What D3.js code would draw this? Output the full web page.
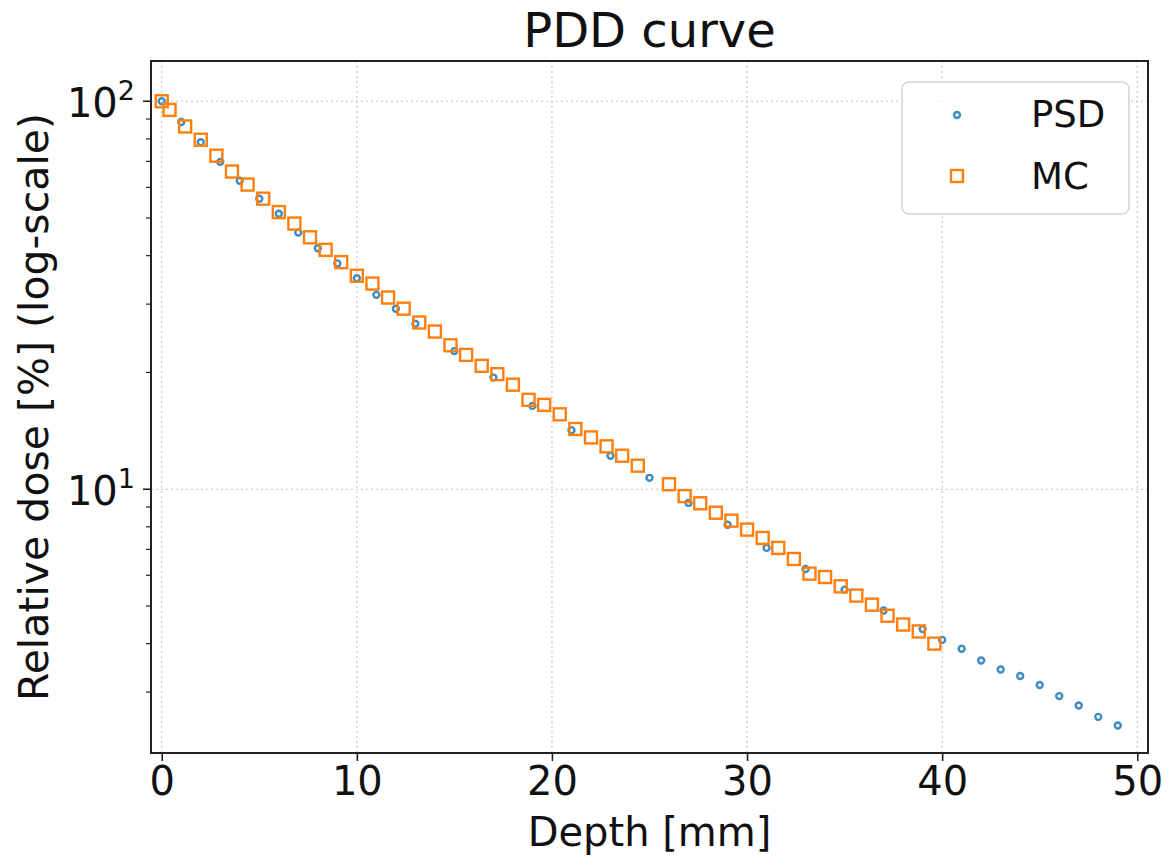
<!DOCTYPE html>
<html lang="en">
<head>
<meta charset="UTF-8">
<title>PDD curve</title>
<style>
  body { margin:0; background:#fff; }
  svg { display:block; font-family:"DejaVu Sans", sans-serif; }
</style>
</head>
<body>
<svg width="1168" height="861"></svg>
<script src="https://cdnjs.cloudflare.com/ajax/libs/d3/7.8.5/d3.min.js"></script>
<script>
// PSD measurement (depth in mm, relative dose in %)
const psdDepth = [0,1,2,3,4,5,6,7,8,9,10,11,12,13,15,17,19,21,23,25,27,29,31,33,35,37,39,
                  40,41,42,43,44,45,46,47,48,49]
const psdDose  = [100,88.4,78.4,69.8,62.4,56.1,51.3,45.9,41.8,38.2,35.0,31.7,29.2,26.7,
                  22.7,19.4,16.4,14.2,12.2,10.7,9.22,8.10,7.06,6.23,5.51,4.87,4.36,
                  4.09,3.88,3.62,3.43,3.30,3.13,2.93,2.77,2.59,2.46]

// Monte Carlo (0.8 mm bins, one missing around 25.2 mm)
const mcDepth = [0,0.4,1.2,2.0,2.8,3.6,4.4,5.2,6.0,6.8,7.6,8.4,9.2,10.0,10.8,11.6,12.4,13.2,
                 14.0,14.8,15.6,16.4,17.2,18.0,18.8,19.6,20.4,21.2,22.0,22.8,23.6,24.4,
                 26.0,26.8,27.6,28.4,29.2,30.0,30.8,31.6,32.4,33.2,34.0,34.8,35.6,36.4,
                 37.2,38.0,38.8,39.6]
const mcDose  = [100,95.0,86.1,79.6,72.4,65.9,61.0,56.1,51.8,48.4,44.6,41.4,38.5,35.5,33.9,
                 31.2,29.2,26.9,25.5,23.5,22.2,20.8,19.8,18.6,17.0,16.5,15.6,14.3,13.6,
                 12.9,12.2,11.5,10.3,9.6,9.2,8.7,8.3,7.87,7.49,7.06,6.61,6.06,5.94,5.62,
                 5.32,5.04,4.72,4.48,4.30,4.00]

const xTicks = [0,10,20,30,40,50]
const yMajor = [10,100]
const yMinor = [3,4,5,6,7,8,9,20,30,40,50,60,70,80,90]

const svg = d3.select('svg')
const mLeft = 151, mTop = 61, w = 997, h = 692

const x = d3.scaleLinear().domain([-0.55, 50.55]).range([mLeft, mLeft + w])
const y = d3.scaleLog().domain([2.09, 127]).range([mTop + h, mTop])

// grid
const grid = svg.append('g')
  .attr('stroke', '#c4c4c4').attr('stroke-width', 1.1).attr('stroke-dasharray', '2,3')
grid.selectAll('.gx').data(xTicks).join('line')
  .attr('x1', d => x(d)).attr('x2', d => x(d))
  .attr('y1', mTop).attr('y2', mTop + h)
grid.selectAll('.gy').data(yMajor).join('line')
  .attr('y1', d => y(d)).attr('y2', d => y(d))
  .attr('x1', mLeft).attr('x2', mLeft + w)

// x axis
const xAxis = svg.append('g')
  .attr('transform', `translate(0,${mTop + h})`)
  .call(d3.axisBottom(x).tickValues(xTicks).tickSize(8).tickPadding(6).tickFormat(d3.format('d')))
xAxis.select('.domain').remove()
xAxis.selectAll('line').attr('stroke', '#222').attr('stroke-width', 1.6)
xAxis.selectAll('text').attr('font-size', 40).attr('fill', '#111')
  .attr('font-family', '"DejaVu Sans", sans-serif')

// y axis ticks
const yAxis = svg.append('g')
yAxis.selectAll('.maj').data(yMajor).join('line')
  .attr('x1', mLeft - 8).attr('x2', mLeft)
  .attr('y1', d => y(d)).attr('y2', d => y(d))
  .attr('stroke', '#222').attr('stroke-width', 1.6)
yAxis.selectAll('.min').data(yMinor).join('line')
  .attr('x1', mLeft - 5).attr('x2', mLeft)
  .attr('y1', d => y(d)).attr('y2', d => y(d))
  .attr('stroke', '#222').attr('stroke-width', 1.2)
const yl = yAxis.selectAll('.lab').data(yMajor).join('text')
  .attr('x', mLeft - 16).attr('y', d => y(d) + 16)
  .attr('text-anchor', 'end').attr('font-size', 40).attr('fill', '#111')
yl.append('tspan').text('10')
yl.append('tspan').attr('font-size', 27).attr('dy', -17).text(d => Math.round(Math.log10(d)))

// frame
svg.append('rect')
  .attr('x', mLeft).attr('y', mTop).attr('width', w).attr('height', h)
  .attr('fill', 'none').attr('stroke', '#222').attr('stroke-width', 2)

// PSD points
svg.append('g').selectAll('circle').data(psdDepth).join('circle')
  .attr('cx', d => x(d)).attr('cy', (d, i) => y(psdDose[i]))
  .attr('r', 3).attr('fill', 'none')
  .attr('stroke', '#1f77b4').attr('stroke-width', 2.4).attr('stroke-opacity', 0.85)

// MC points
const sq = 12
svg.append('g').selectAll('rect').data(mcDepth).join('rect')
  .attr('x', d => x(d) - sq / 2).attr('y', (d, i) => y(mcDose[i]) - sq / 2)
  .attr('width', sq).attr('height', sq).attr('fill', 'none')
  .attr('stroke', '#ff7f0e').attr('stroke-width', 2.4)

// legend
const lg = svg.append('g')
lg.append('rect')
  .attr('x', 902).attr('y', 82).attr('width', 227).attr('height', 132).attr('rx', 7)
  .attr('fill', '#fff').attr('fill-opacity', 0.8)
  .attr('stroke', '#d4d4d4').attr('stroke-width', 1.5)
lg.append('circle').attr('cx', 957).attr('cy', 115).attr('r', 3)
  .attr('fill', 'none').attr('stroke', '#1f77b4').attr('stroke-width', 2.4).attr('stroke-opacity', 0.85)
lg.append('rect').attr('x', 957 - sq / 2).attr('y', 176 - sq / 2).attr('width', sq).attr('height', sq)
  .attr('fill', 'none').attr('stroke', '#ff7f0e').attr('stroke-width', 2.4)
lg.append('text').attr('x', 1031).attr('y', 127).attr('font-size', 37).attr('fill', '#111').text('PSD')
lg.append('text').attr('x', 1031).attr('y', 189).attr('font-size', 37).attr('fill', '#111').text('MC')

// titles
svg.append('text').attr('x', mLeft + w / 2).attr('y', 47)
  .attr('text-anchor', 'middle').attr('font-size', 48).attr('fill', '#111').text('PDD curve')
svg.append('text').attr('x', mLeft + w / 2).attr('y', 846)
  .attr('text-anchor', 'middle').attr('font-size', 40).attr('fill', '#111').text('Depth [mm]')
svg.append('text')
  .attr('transform', `translate(48,${mTop + h / 2}) rotate(-90)`)
  .attr('text-anchor', 'middle').attr('font-size', 41).attr('fill', '#111')
  .text('Relative dose [%] (log-scale)')
</script>
</body>
</html>
